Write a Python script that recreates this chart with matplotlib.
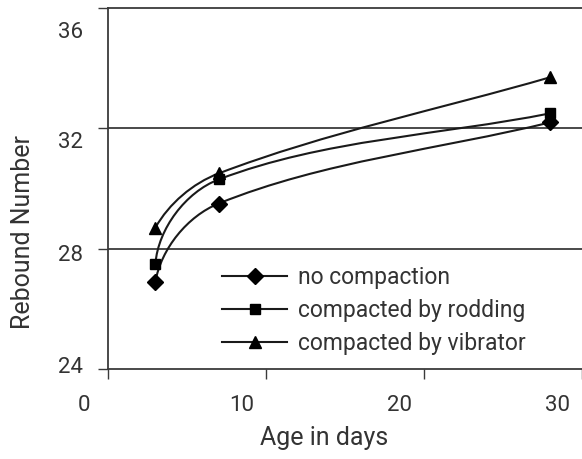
import matplotlib
matplotlib.use('Agg')
import matplotlib.pyplot as plt
from matplotlib.path import Path
from matplotlib.patches import PathPatch
from matplotlib.lines import Line2D
from matplotlib.transforms import ScaledTranslation
import numpy as np

plt.rcParams['font.family'] = ['Roboto', 'DejaVu Sans']

# ── Data ──────────────────────────────────────────────────────────────────────
ages = [3, 7, 28]
no_compaction = [26.9, 29.5, 32.2]
rodding = [27.5, 30.3, 32.5]
vibrator = [28.7, 30.5, 33.7]
series_labels = ['no compaction', 'compacted by rodding', 'compacted by vibrator']
xticks = [0, 10, 20, 30]
yticks = [24, 28, 32, 36]

LINE = '#1a1a1a'
GRID = '#3a3a3a'
TEXT = '#333333'


def unit(v):
    return v / np.hypot(*v)


def smooth_path(ax, xs, ys):
    # Excel-like smoothed line, built in screen space so the bends look right
    pts = ax.transData.transform(np.column_stack([xs, ys]).astype(float))
    n = len(pts)
    tang = [None] * n
    for i in range(1, n - 1):
        tang[i] = unit(pts[i + 1] - pts[i - 1])
    # start: mirror the neighbour's tangent about the first chord; end: follow the chord
    c = unit(pts[1] - pts[0])
    tang[0] = 2 * c * np.dot(c, tang[1]) - tang[1] if n > 2 else c
    tang[-1] = unit(pts[-1] - pts[-2])
    verts, codes = [pts[0]], [Path.MOVETO]
    for i in range(n - 1):
        L = np.hypot(*(pts[i + 1] - pts[i])) / 3
        verts += [pts[i] + tang[i] * L, pts[i + 1] - tang[i + 1] * L, pts[i + 1]]
        codes += [Path.CURVE4] * 3
    verts = ax.transData.inverted().transform(np.array(verts))
    return Path(verts, codes)


W, H = 582, 459
fig = plt.figure(figsize=(W / 100, H / 100), dpi=100)
ax = fig.add_axes([108 / W, 1 - 369 / H, 1 - 108 / W, (369 - 8) / H])
ax.set_xlim(0, 30)
ax.set_ylim(24, 36)

styles = [('D', 8), ('s', 7.5), ('^', 9)]
handles = []
for ys, label, (mk, ms) in zip([no_compaction, rodding, vibrator], series_labels, styles):
    ax.add_patch(PathPatch(smooth_path(ax, ages, ys), facecolor='none',
                           edgecolor=LINE, lw=1.5, zorder=3))
    ax.plot(ages, ys, linestyle='none', marker=mk, ms=ms, color='black', zorder=4)
    handles.append(Line2D([], [], color=LINE, lw=1.5, marker=mk, ms=ms,
                          markerfacecolor='black', markeredgecolor='black'))

ax.set_xticks(xticks)
ax.set_yticks(yticks)
for y in [28, 32]:
    ax.axhline(y, color=GRID, lw=1.3, zorder=1)

for side in ['left', 'bottom', 'top']:
    ax.spines[side].set_color(GRID)
    ax.spines[side].set_linewidth(1.3)
ax.spines['right'].set_visible(False)

ax.tick_params(axis='x', direction='out', length=7, width=1, colors=GRID,
               labelcolor=TEXT, labelsize=16, pad=12)
ax.tick_params(axis='y', direction='out', length=7, width=1, colors=GRID,
               labelcolor=TEXT, labelsize=16, pad=11)

# shift tick labels the way the original places them
for lab in ax.get_xticklabels():
    lab.set_transform(lab.get_transform() + ScaledTranslation(-0.24, 0, fig.dpi_scale_trans))
for lab, dy in zip(ax.get_yticklabels(), [-4, 4, 12, 22]):
    lab.set_transform(lab.get_transform() + ScaledTranslation(0, -dy / 100, fig.dpi_scale_trans))

fig.text(324 / W, 1 - 438 / H, 'Age in days', ha='center', va='center',
         fontsize=18, color=TEXT)
fig.text(23 / W, 1 - 232 / H, 'Rebound Number', ha='center', va='center',
         rotation=90, fontsize=18, color=TEXT)

ax.legend(handles=handles, labels=series_labels, frameon=False, fontsize=16.5,
          loc='upper left', bbox_to_anchor=(211 / W, 1 - 255 / H),
          bbox_transform=fig.transFigure, handlelength=2.8, handletextpad=0.5,
          labelspacing=0.42, borderpad=0, labelcolor=TEXT)

fig.savefig('out.png', dpi=100)
